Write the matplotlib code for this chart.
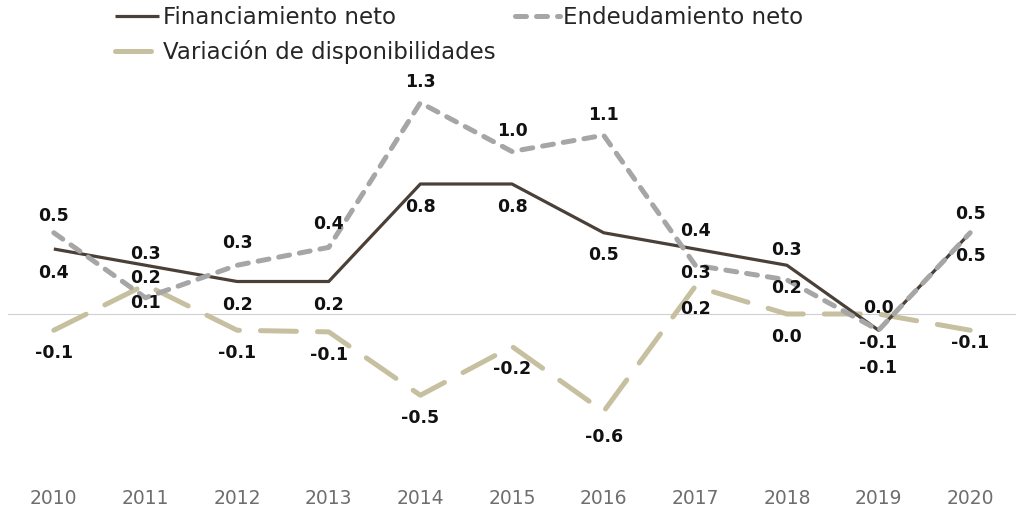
import matplotlib
matplotlib.use('Agg')
import matplotlib.pyplot as plt

years = ['2010', '2011', '2012', '2013', '2014', '2015', '2016', '2017', '2018', '2019', '2020']
financiamiento = [0.40, 0.30, 0.20, 0.20, 0.80, 0.80, 0.50, 0.40, 0.30, -0.10, 0.50]
endeudamiento = [0.50, 0.10, 0.30, 0.41, 1.30, 1.00, 1.10, 0.30, 0.21, -0.10, 0.50]
variacion = [-0.10, 0.18, -0.10, -0.11, -0.50, -0.20, -0.60, 0.17, 0.00, 0.00, -0.10]

# label offsets in pixels (positive = below the point)
off_fin = [24, -11, 23, 23, 23, 23, 22, -18, -15, 38, 23]
off_end = [-17, 5, -22, -23, -21, -21, -20, 8, 8, 13, -19]
off_var = [23, -7, 23, 23, 23, 23, 25, 23, 23, -6, 13]

c_fin = '#4b4038'
c_end = '#a6a6a6'
c_var = '#c6c0a0'

fig = plt.figure(figsize=(10.16, 5.17), dpi=100)
ax = fig.add_axes([8 / 1016, (517 - 476.5) / 517, 1 - 8 / 1016, (476.5 - 70.25) / 517])

x = list(range(len(years)))
ax.axhline(0, color='#d0d0d0', lw=0.8, zorder=1)

l_var, = ax.plot(x, variacion, color=c_var, lw=3.6, dashes=(7.2, 4.2),
                 dash_capstyle='round', solid_capstyle='round', zorder=2,
                 label='Variación de disponibilidades')
l_fin, = ax.plot(x, financiamiento, color=c_fin, lw=2.3, zorder=3,
                 solid_capstyle='butt', label='Financiamiento neto')
l_end, = ax.plot(x, endeudamiento, color=c_end, lw=3.6, dashes=(2.2, 2.0),
                 dash_capstyle='round', zorder=4, label='Endeudamiento neto')

for vals, offs in [(financiamiento, off_fin), (endeudamiento, off_end), (variacion, off_var)]:
    for xi, v, o in zip(x, vals, offs):
        txt = f'{v:.1f}'
        if txt == '-0.0':
            txt = '0.0'
        ax.annotate(txt, (xi, v), xytext=(0, -o * 0.72), textcoords='offset points',
                    ha='center', va='center', fontsize=12.5, fontweight='bold',
                    color='#111111', zorder=5)

ax.set_xlim(-0.5, 10.5)
ax.set_ylim(-1.0, 1.5)
ax.set_xticks(x)
ax.set_xticklabels(years, fontsize=13.5, color='#6e6e6e')
ax.tick_params(axis='x', length=0, pad=9)
ax.set_yticks([])
for s in ax.spines.values():
    s.set_visible(False)

fig.legend(handles=[l_fin, l_var, l_end], ncol=2, loc='upper left',
           bbox_to_anchor=(102 / 1016, 1.012), frameon=False, fontsize=16.5,
           handlelength=1.95, handletextpad=0.15, labelspacing=0.45,
           columnspacing=0.85, borderpad=0.05, labelcolor='#262626')

plt.savefig('out.png', dpi=100)
